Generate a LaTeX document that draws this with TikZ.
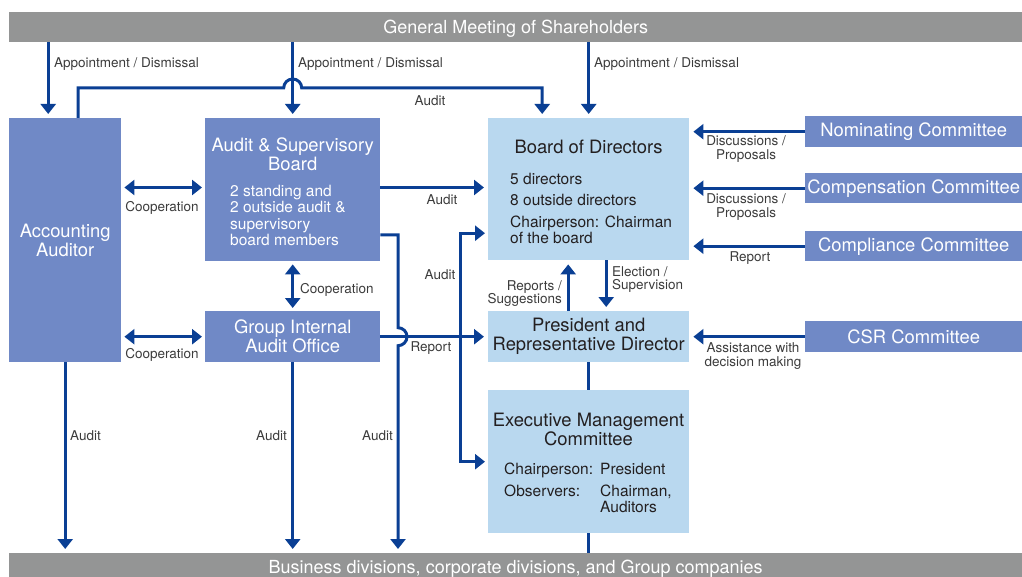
\documentclass[tikz,border=0pt]{standalone}
\usepackage{fontspec}
\setmainfont{TeX Gyre Heros}
\usetikzlibrary{arrows.meta, positioning}
\definecolor{barGray}{HTML}{949595}
\definecolor{midBlue}{HTML}{7089C6}
\definecolor{paleBlue}{HTML}{B9D8EF}
\definecolor{lineBlue}{HTML}{0A3F94}
\definecolor{labelGray}{HTML}{3C3C3C}
\definecolor{titleDark}{HTML}{231F20}
\newcommand{\HOP}{9pt}
\tikzset{
  tip/.tip={Triangle[width=15pt,length=10pt]},
  bar/.style={fill=barGray, text=white, minimum width=1013pt, inner sep=0pt, text depth=0pt, anchor=north west, font=\fontsize{18}{20}\selectfont},
  midbox/.style={fill=midBlue, text=white, inner sep=0pt, anchor=north west},
  palebox/.style={fill=paleBlue, text=titleDark, inner sep=0pt, anchor=north west},
  big/.style={font=\fontsize{18.4}{19}\selectfont, align=center},
  body/.style={font=\fontsize{15.5}{16.5}\selectfont, align=left, inner sep=0pt, anchor=north west},
  lbl/.style={text=labelGray, font=\fontsize{13.5}{13.8}\selectfont, inner sep=0pt, align=center},
  ln/.style={draw=lineBlue, line width=3pt},
  arr/.style={ln, -tip, shorten >=4pt},
  dbl/.style={ln, tip-tip, shorten >=3pt, shorten <=3pt}
}

\begin{document}
\begin{tikzpicture}[x=1pt, y=1pt]
    \useasboundingbox (0,0) rectangle (1022,-577);

    % bars
    \node[bar, minimum height=30pt] (gm) at (9,-12) {General Meeting of Shareholders};
    \node[bar, minimum height=28pt] (biz) at (9,-553) {Business divisions, corporate divisions, and Group companies};

    % audit side
    \node[midbox, big, minimum width=112pt, minimum height=244pt] (aa) at (9,-118) {Accounting\\Auditor};
    \node[midbox, minimum width=175pt, minimum height=143pt] (asb) at (205,-118) {};
    \node[big, text=white] (asbt) at ([yshift=-36pt]asb.north) {Audit \& Supervisory\\Board};
    \node[body, text=white] (asbb) at (230,-185) {2 standing and\\2 outside audit \&\\supervisory\\board members};
    \node[midbox, big, minimum width=175pt, minimum height=51pt] (giao) at (205,-311) {Group Internal\\Audit Office};

    % execution side
    \node[palebox, minimum width=201pt, minimum height=142pt] (bod) at (488,-118) {};
    \node[big, text=titleDark] (bodt) at (588.5,-147) {Board of Directors};
    \node[body, text=titleDark] (bodb) at (510,-173) {5 directors\\[5pt]8 outside directors\\[5pt]Chairperson: Chairman\\of the board};
    \node[palebox, big, minimum width=201pt, minimum height=51pt] (pres) at (488,-311) {President and\\Representative Director};
    \node[palebox, minimum width=201pt, minimum height=143pt] (emc) at (488,-390) {};
    \node[big, text=titleDark] (emct) at (588.5,-429) {Executive Management\\Committee};
    \node[body, text=titleDark] (emcb) at (504,-463) {\begin{tabular}{@{}p{96pt}@{}l@{}}Chairperson: & President\\[5pt]Observers: & Chairman,\\ & Auditors\end{tabular}};

    % committees
    \node[midbox, big, minimum width=217pt, minimum height=31pt] (nom) at (805,-116) {Nominating Committee};
    \node[midbox, big, minimum width=217pt, minimum height=30pt] (comp) at (805,-173) {Compensation Committee};
    \node[midbox, big, minimum width=217pt, minimum height=30pt] (compl) at (805,-231) {Compliance Committee};
    \node[midbox, big, minimum width=217pt, minimum height=31pt] (csr) at (805,-321) {CSR Committee};

    % helper levels
    \coordinate (yA) at (0,-187.5);
    \coordinate (hop) at (asb.north |- 0,-88);
    \coordinate (drop) at (398,-235);
    \coordinate (auditX) at (460,0);
    \coordinate (bodIn) at ([yshift=-44pt]bod.west);

    % appointment / dismissal
    \draw[arr] ([xshift=-17pt]aa.north |- gm.south) -- ([xshift=-17pt]aa.north);
    \node[lbl, anchor=west] (ad1) at (54,-64) {Appointment / Dismissal};
    \draw[arr] (asb.north |- gm.south) -- (asb.north);
    \node[lbl, anchor=west] (ad2) at (298,-64) {Appointment / Dismissal};
    \draw[arr] (bod.north |- gm.south) -- (bod.north);
    \node[lbl, anchor=west] (ad3) at (594,-64) {Appointment / Dismissal};

    % accounting auditor audits the board
    \draw[arr] ([xshift=13pt]aa.north) |- ([xshift=-\HOP]hop) arc[start angle=180, end angle=0, radius=\HOP]
        -- ([xshift=-46.5pt]bod.north |- hop) -- ([xshift=-46.5pt]bod.north);
    \node[lbl] (aud1) at (430,-101) {Audit};

    % cooperation
    \draw[dbl] (aa.east |- yA) -- (asb.west |- yA);
    \node[lbl] (coop1) at (162,-208) {Cooperation};
    \draw[dbl] (aa.east |- giao.west) -- (giao.west);
    \node[lbl] (coop2) at (162,-355) {Cooperation};
    \draw[dbl] (asb.south) -- (giao.north);
    \node[lbl, anchor=west] (coop3) at (300,-290) {Cooperation};

    % audit & supervisory board
    \draw[arr] (asb.east |- yA) -- (bod.west |- yA);
    \node[lbl] (aud2) at (442,-200) {Audit};
    \draw[arr] (asb.east |- drop) -- (drop) -- ([yshift=\HOP]drop |- giao.east)
        arc[start angle=90, end angle=-90, radius=\HOP] -- (drop |- biz.north);
    \node[lbl, anchor=east] (aud3) at (393,-436) {Audit};

    % group internal audit office
    \draw[arr] (giao.east) -- (pres.west);
    \node[lbl] (rep1) at (431,-348) {Report};
    \draw[dbl] (bodIn) -- (auditX |- bodIn) -- (auditX |- emc.west) -- (emc.west);
    \node[lbl] (aud4) at (440,-275) {Audit};

    % board and president
    \draw[arr] ([xshift=17.5pt]bod.south) -- ([xshift=17.5pt]pres.north);
    \node[lbl, anchor=north west, align=left] (elec) at (612,-266) {Election /\\Supervision};
    \draw[arr] ([xshift=-20.5pt]pres.north) -- ([xshift=-20.5pt]bod.south);
    \node[lbl, anchor=north east, align=right] (reps) at (562,-280) {Reports /\\Suggestions};
    \draw[ln] (pres.south) -- (emc.north);
    \draw[ln] (emc.south) -- (emc.south |- biz.north);

    % committees to board / president
    \draw[arr] (nom.west) -- (nom.west -| bod.east);
    \node[lbl] (disc1) at (746,-149) {Discussions /\\Proposals};
    \draw[arr] (comp.west) -- (comp.west -| bod.east);
    \node[lbl] (disc2) at (746,-207) {Discussions /\\Proposals};
    \draw[arr] (compl.west) -- (compl.west -| bod.east);
    \node[lbl] (rep2) at (750,-258) {Report};
    \draw[arr] (csr.west) -- (csr.west -| pres.east);
    \node[lbl] (assist) at (753,-356) {Assistance with\\decision making};

    % audits of the divisions
    \draw[arr] (aa.south) -- (aa.south |- biz.north);
    \node[lbl, anchor=west] (aud5) at (70,-436) {Audit};
    \draw[arr] (giao.south) -- (giao.south |- biz.north);
    \node[lbl, anchor=east] (aud6) at (287,-436) {Audit};
\end{tikzpicture}
\end{document}
